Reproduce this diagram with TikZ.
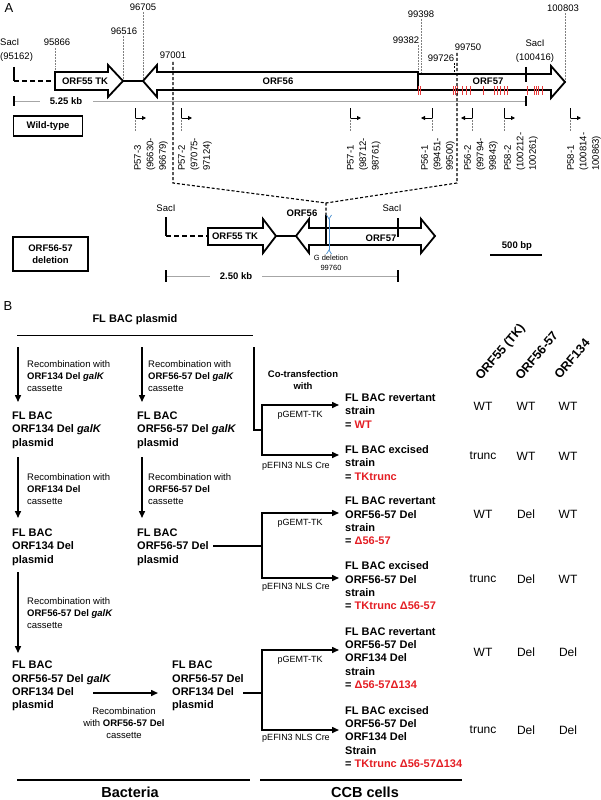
\documentclass[tikz,border=0pt]{standalone}
\usepackage{fontspec}
\setmainfont{Liberation Sans}
\usetikzlibrary{arrows.meta}
\definecolor{mred}{RGB}{228,30,36}
\definecolor{tickred}{RGB}{232,60,60}
\definecolor{mblue}{RGB}{70,140,205}
\begin{document}
\begin{tikzpicture}[x=1pt,y=-1pt,
 num/.style={font=\fontsize{9.5}{12}\selectfont, inner sep=0pt, align=center},
 bl/.style={font=\bfseries\fontsize{9.5}{12}\selectfont, inner sep=0pt},
 gene/.style={draw, line width=1.8pt, fill=white, line join=miter, miter limit=10},
 posl/.style={draw=gray, densely dotted, line width=0.5pt},
 zl/.style={line width=1.1pt, dash pattern=on 3pt off 2pt},
 sc/.style={draw=gray!70, line width=0.6pt},
 sct/.style={line width=1.3pt},
 prim/.style={line width=0.8pt, -{Triangle[length=4pt,width=4pt]}},
 lbox/.style={draw, line width=1.2pt, inner sep=0pt, align=center, font=\bfseries\fontsize{9.5}{12}\selectfont},
 bt/.style={font=\bfseries\fontsize{11}{13.3}\selectfont, align=left, anchor=west, inner sep=0pt},
 rt/.style={font=\fontsize{9.5}{12.3}\selectfont, align=left, anchor=west, inner sep=0pt},
 lab/.style={font=\fontsize{9}{11}\selectfont, inner sep=0pt},
 tb/.style={font=\fontsize{12}{14}\selectfont, inner sep=0pt},
 hd/.style={font=\bfseries\fontsize{12.5}{14}\selectfont, inner sep=0pt, rotate=50, anchor=base west},
 arr/.style={line width=1.5pt, -{Triangle[length=7pt,width=6pt]}},
 ln/.style={line width=1.5pt},
 bigl/.style={font=\bfseries\fontsize{14.5}{17}\selectfont, inner sep=0pt},
 panel/.style={font=\fontsize{13}{15}\selectfont, inner sep=0pt}
]
\useasboundingbox (0,0) rectangle (600,800);
% ================= Panel A =================
\node[panel] (pA) at (9,8) {A};
% position markers
\node[num, align=left, anchor=west, font=\fontsize{9.5}{13.5}\selectfont] (sac1) at (0,50) {SacI\\(95162)};
\node[num] (p95866) at (57,42) {95866};
\draw[posl] (55,48) -- (55,72);
\node[num] (p96516) at (124,31) {96516};
\draw[posl] (123,36) -- (123,81);
\node[num] (p96705) at (143,7) {96705};
\draw[posl] (143,12) -- (143,81);
\node[num] (p97001) at (173,55) {97001};
\node[num] (p99398) at (421,14) {99398};
\draw[posl] (421,19) -- (421,74);
\node[num] (p99382) at (406,40) {99382};
\draw[posl] (418,45) -- (418,74);
\node[num] (p99726) at (441,58) {99726};
\draw[line width=0.8pt, dash pattern=on 2pt off 1.5pt] (454,63) -- (454,76);
\node[num] (p99750) at (468,47) {99750};
\node[num, font=\fontsize{9.5}{13.5}\selectfont] (sac2) at (535,51) {SacI\\(100416)};
\node[num] (p100803) at (563,8) {100803};
\draw[posl] (565,13) -- (565,82);
% genes wild type
\draw[line width=1.8pt] (14,67) -- (14,81);
\draw[line width=1.8pt, dash pattern=on 5pt off 3pt] (14,81) -- (55,81);
\draw[gene] (55,72) -- (108,72) -- (108,65) -- (123,81) -- (108,97) -- (108,90) -- (55,90) -- cycle;
\node[bl] (orf55) at (85,81) {ORF55 TK};
\draw[line width=1.8pt] (123,81) -- (143,81);
\draw[gene] (143,81) -- (157,65) -- (157,72) -- (418,72) -- (418,90) -- (157,90) -- (157,97) -- cycle;
\node[bl] (orf56) at (278,81) {ORF56};
\draw[gene] (418,74) -- (551,74) -- (551,66) -- (565,82) -- (551,98) -- (551,90) -- (418,90) -- cycle;
\node[bl] (orf57) at (488,81) {ORF57};
\foreach \x in {418,420,453,455,457,462,466,470,483,494,497,500,504,507,527,534,536,538,542}
  \draw[tickred, line width=0.8pt] (\x,86) -- (\x,95);
\draw[line width=1.8pt] (526,67) -- (526,82);
% scale bar 5.25 kb
\draw[sc] (14,101) -- (40,101);
\draw[sc] (93,101) -- (526,101);
\node[bl] (kb525) at (66,101) {5.25 kb};
\draw[sct] (14,96) -- (14,106);
\draw[sct] (526,96) -- (526,106);
\node[lbox, minimum width=69pt, minimum height=20pt] (wt) at (48,126) {Wild-type};
% primers
\foreach \x/\d/\lx/\a/\b/\c in {135/1/138/P57-3/96630/96679, 181/1/182/P57-2/97075/97124, 350/1/351/P57-1/98712/98761, 432/-1/425/P56-1/99451/99500, 472/-1/468/P56-2/99794/99843, 504/1/508/P58-2/100212/100261, 570/1/571/P58-1/100814/100863}{
  \draw[prim] (\x,108) -- (\x,118) -- ++(\d*11,0);
  \draw[posl] (\x,118) -- (\x,131);
  \node[num, rotate=90, anchor=north west, align=left, font=\fontsize{9.5}{12.5}\selectfont] at (\lx-4,171) {\a\\(\b-\\\c)};
}
% zoom lines
\coordinate (zl) at (173,183);
\coordinate (zr) at (457,183);
\coordinate (zm) at (326,203);
\draw[zl] (173,62) -- (zl) -- (zm) -- (326,216);
\draw[zl] (457,53) -- (zr) -- (zm);
% deletion construct
\node[num] (sac3) at (166,208) {SacI};
\draw[line width=1.8pt] (166,217) -- (166,236);
\draw[line width=1.8pt, dash pattern=on 5pt off 3pt] (166,236) -- (208,236);
\draw[gene] (208,228) -- (263,228) -- (263,219) -- (276,236) -- (263,253) -- (263,245) -- (208,245) -- cycle;
\node[bl] (orf55d) at (235,236.5) {ORF55 TK};
\draw[line width=1.8pt] (276,236) -- (296,236);
\draw[gene] (296,236) -- (309,219) -- (309,228) -- (326,228) -- (326,245) -- (309,245) -- (309,253) -- cycle;
\draw[gene] (326,228) -- (421,228) -- (421,219) -- (435,236) -- (421,253) -- (421,245) -- (326,245) -- cycle;
\draw[line width=1.8pt] (326,215) -- (326,245);
\node[bl] (orf56d) at (302,213) {ORF56};
\node[bl] (orf57d) at (381,238) {ORF57};
\node[num] (sac4) at (392,208) {SacI};
\draw[line width=1.8pt] (398,218) -- (398,237);
\draw[mblue, line width=0.7pt] (329,219) -- (329,250);
\draw[mblue, line width=0.7pt] (326.5,215) -- (329,219) -- (331.5,215);
\draw[mblue, line width=0.7pt] (326.5,254) -- (329,250) -- (331.5,254);
\node[num, font=\fontsize{7.5}{10}\selectfont] (gdel) at (331,263) {G deletion\\99760};
\node[bl] (bp500) at (517,246) {500 bp};
\draw[line width=1.5pt] (490,255) -- (542,255);
% scale bar 2.50 kb
\draw[sc] (166,276) -- (210,276);
\draw[sc] (262,276) -- (398,276);
\node[bl] (kb250) at (236,276) {2.50 kb};
\draw[sct] (166,270) -- (166,282);
\draw[sct] (398,270) -- (398,282);
\node[lbox, minimum width=75pt, minimum height=34pt] (delbox) at (50.5,254) {ORF56-57\\deletion};
% ================= Panel B =================
\node[panel] (pB) at (8,306) {B};
\node[bt, anchor=center] (fl) at (135,320) {FL BAC plasmid};
\draw[line width=1pt] (17,335) -- (253,335);
% column 1
\draw[arr] (18,347) -- (18,402);
\node[rt] (r1a) at (27,376) {Recombination with\\\textbf{ORF134 Del \textit{galK}}\\cassette};
\node[bt] (s1a) at (12,430) {FL BAC\\ORF134 Del \textit{galK}\\plasmid};
\draw[arr] (18,457) -- (18,518);
\node[rt] (r2a) at (27,489) {Recombination with\\\textbf{ORF134 Del}\\cassette};
\node[bt] (s2a) at (12,547) {FL BAC\\ORF134 Del\\plasmid};
\draw[arr] (18,572) -- (18,653);
\node[rt] (r3a) at (27,613) {Recombination with\\\textbf{ORF56-57 Del \textit{galK}}\\cassette};
\node[bt] (s3a) at (12,686) {FL BAC\\ORF56-57 Del \textit{galK}\\ORF134 Del\\plasmid};
\draw[arr] (93,693) -- (158,693);
\node[rt, anchor=center, align=center] (r3b) at (124,723) {Recombination\\with \textbf{ORF56-57 Del}\\cassette};
\node[bt] (s3b) at (172,686) {FL BAC\\ORF56-57 Del\\ORF134 Del\\plasmid};
% column 2
\draw[arr] (142,347) -- (142,402);
\node[rt] (r1b) at (148,376) {Recombination with\\\textbf{ORF56-57 Del \textit{galK}}\\cassette};
\node[bt] (s1b) at (137,430) {FL BAC\\ORF56-57 Del \textit{galK}\\plasmid};
\draw[arr] (142,457) -- (142,518);
\node[rt] (r2b) at (148,489) {Recombination with\\\textbf{ORF56-57 Del}\\cassette};
\node[bt] (s2b) at (137,547) {FL BAC\\ORF56-57 Del\\plasmid};
% co-transfection branches
\node[bt, anchor=center, align=center, font=\bfseries\fontsize{9.5}{12}\selectfont] (cot) at (303,380) {Co-transfection\\with};
\coordinate (b1) at (262,430);
\draw[ln] (254,347) -- (254,430) -- (b1);
\draw[arr] (b1) |- (339,405);
\draw[arr] (b1) |- (339,455);
\coordinate (b2) at (262,546);
\draw[ln] (213,546) -- (b2);
\draw[arr] (b2) |- (339,513);
\draw[arr] (b2) |- (339,578);
\coordinate (b3) at (262,693);
\draw[ln] (243,693) -- (b3);
\draw[arr] (b3) |- (339,650);
\draw[arr] (b3) |- (339,730);
\foreach \y/\n in {415/g1,523/g2,660/g3}{\node[lab] (\n) at (300,\y) {pGEMT-TK};}
\foreach \y/\n in {466/e1,587/e2,738/e3}{\node[lab] (\n) at (296,\y) {pEFIN3 NLS Cre};}
% strains
\node[bt] (st1) at (345,411) {FL BAC revertant\\strain\\= \textcolor{mred}{WT}};
\node[bt] (st2) at (345,463) {FL BAC excised\\strain\\= \textcolor{mred}{TKtrunc}};
\node[bt] (st3) at (345,521) {FL BAC revertant\\ORF56-57 Del\\strain\\= \textcolor{mred}{Δ56-57}};
\node[bt] (st4) at (345,586) {FL BAC excised\\ORF56-57 Del\\strain\\= \textcolor{mred}{TKtrunc Δ56-57}};
\node[bt] (st5) at (345,658) {FL BAC revertant\\ORF56-57 Del\\ORF134 Del\\strain\\= \textcolor{mred}{Δ56-57Δ134}};
\node[bt] (st6) at (345,737) {FL BAC excised\\ORF56-57 Del\\ORF134 Del\\Strain\\= \textcolor{mred}{TKtrunc Δ56-57Δ134}};
% table
\node[hd] (h1) at (481,381) {ORF55 (TK)};
\node[hd] (h2) at (521,381) {ORF56-57};
\node[hd] (h3) at (560,380) {ORF134};
\foreach \y/\a/\b/\c [count=\i] in {406/WT/WT/WT, 456/trunc/WT/WT, 514/WT/Del/WT, 579/trunc/Del/WT, 652/WT/Del/Del, 730/trunc/Del/Del}{
  \node[tb] (t\i a) at (483,\y) {\a};
  \node[tb] (t\i b) at (526,\y) {\b};
  \node[tb] (t\i c) at (568,\y) {\c};
}
% bottom
\draw[ln] (17,780) -- (250,780);
\draw[ln] (260,780) -- (462,780);
\node[bigl] (bac) at (130,792) {Bacteria};
\node[bigl] (ccb) at (365,792) {CCB cells};
\end{tikzpicture}
\end{document}
